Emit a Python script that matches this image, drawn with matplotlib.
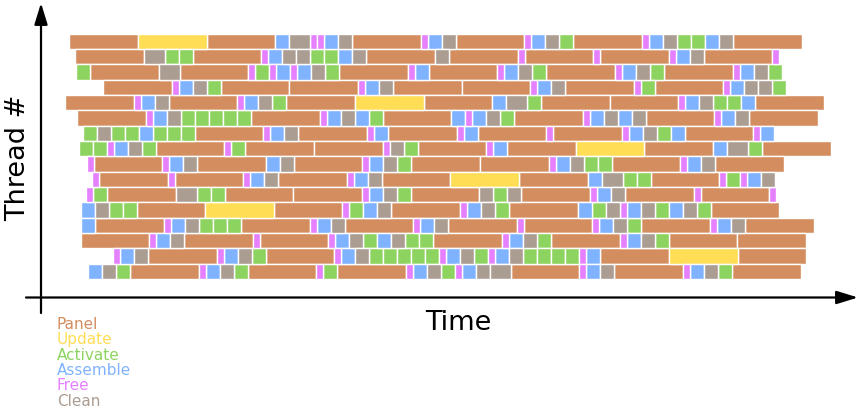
import matplotlib
matplotlib.use('Agg')
import matplotlib.pyplot as plt

# task types, in legend order
task_names = ['Panel', 'Update', 'Activate', 'Assemble', 'Free', 'Clean']
task_colors = ['#d38d5f', '#ffdd55', '#8dd35f', '#80b3ff', '#e580ff', '#ac9d93']

# one letter per task in the thread strings (W = a longer clean)
task_codes = {'P': 'Panel', 'U': 'Update', 'A': 'Activate', 'S': 'Assemble',
              'F': 'Free', 'C': 'Clean', 'W': 'Clean'}
task_durations = {'P': 9.8, 'U': 9.8, 'A': 2.0, 'S': 2.0, 'F': 1.0, 'C': 2.0, 'W': 3.0}  # time units

# start time of the first task of every thread (top thread first)
thread_starts = [4.19, 5.04, 5.14, 9.04, 3.61, 5.33, 6.10, 5.53,
                 6.67, 7.43, 6.57, 5.81, 5.90, 5.81, 10.47, 6.86]

# tasks run back to back on each thread
thread_tasks = [
    'PUPSWFFSCPFSCPFSCAPFSCAASCP',
    'PWAAPFSCCAASCPCPFPFPFSCPF',
    'APWPFAFSFSCAPFSPFSCAPFSCAPFSCA',
    'PFSCAPPFSCPPFSCPFAPFSCCA',
    'PFSCPFSCAPUPSWAPPFSCAASP',
    'PFSCAAAAAPFSCSAPSFSCAPFSCSCPFSCP',
    'ACAASAAAPFSCPFSPFSPFPFSCASPFS',
    'AAFSCAPFAPPFCAPFSPUPSWAP',
    'FPFSCPSCPFSCAPPFSCAAPFSCP',
    'FPFPFSCPFSCPUPSWAAPFAFSC',
    'FAPWAAPPFSCAPCACPFSCPFPF',
    'SCAAPUPFASCPFSCAPSACFSCASCAP',
    'SPFSCAAAPFSCPFSCPFPFSCAPFSCP',
    'PFSCPFPFSCASCAAPFSCAPFSCAPP',
    'FSCPFSCAPFSCAAAAAFSCAFSCAAAAFSPUP',
    'SCAPFSCAPFAPFSCAFSCWPFSCPFSCAP',
]

W, H = 863, 411
fig = plt.figure(figsize=(W / 100, H / 100), dpi=100)
ax = fig.add_axes([0, 0, 1, 1])

# collect bars per task type
bars = {name: ([], [], []) for name in task_names}
for row, (t, tasks) in enumerate(zip(thread_starts, thread_tasks)):
    for code in tasks:
        d = task_durations[code]
        ys, lefts, widths = bars[task_codes[code]]
        ys.append(row)
        lefts.append(t)
        widths.append(d)
        t += d

for name, color in zip(task_names, task_colors):
    ys, lefts, widths = bars[name]
    ax.barh(ys, widths, left=lefts, height=1.0, color=color,
            edgecolor='white', linewidth=1.0)

# 7 px per time unit, y axis at x=40 px; rows 15.33 px apart starting at y=41.5 px
ax.set_xlim(-40 / 7, (W - 40) / 7)
ax.set_ylim((H - 41.5) / 15.33, -41.5 / 15.33)
ax.axis('off')

# hand drawn style axes with arrows
arrow = dict(arrowstyle='-|>,head_length=1.3,head_width=0.4', lw=1.6,
             color='black', shrinkA=0, shrinkB=0)
ax.annotate('', xy=(41 / W, 1 - 3 / H), xytext=(41 / W, 1 - 313 / H),
            xycoords='figure fraction', textcoords='figure fraction', arrowprops=arrow)
ax.annotate('', xy=(858 / W, 1 - 297.5 / H), xytext=(26 / W, 1 - 297.5 / H),
            xycoords='figure fraction', textcoords='figure fraction', arrowprops=arrow)

fig.text(18 / W, 1 - 158 / H, 'Thread #', rotation=90, fontsize=19.5,
         ha='center', va='center')
fig.text(458 / W, 1 - 330 / H, 'Time', fontsize=19.5, ha='center', va='baseline')

# coloured legend text
for i, (name, color) in enumerate(zip(task_names, task_colors)):
    fig.text(57 / W, 1 - (329 + 15.33 * i) / H, name, color=color,
             fontsize=11, ha='left', va='baseline')

fig.savefig('out.png', dpi=100)
